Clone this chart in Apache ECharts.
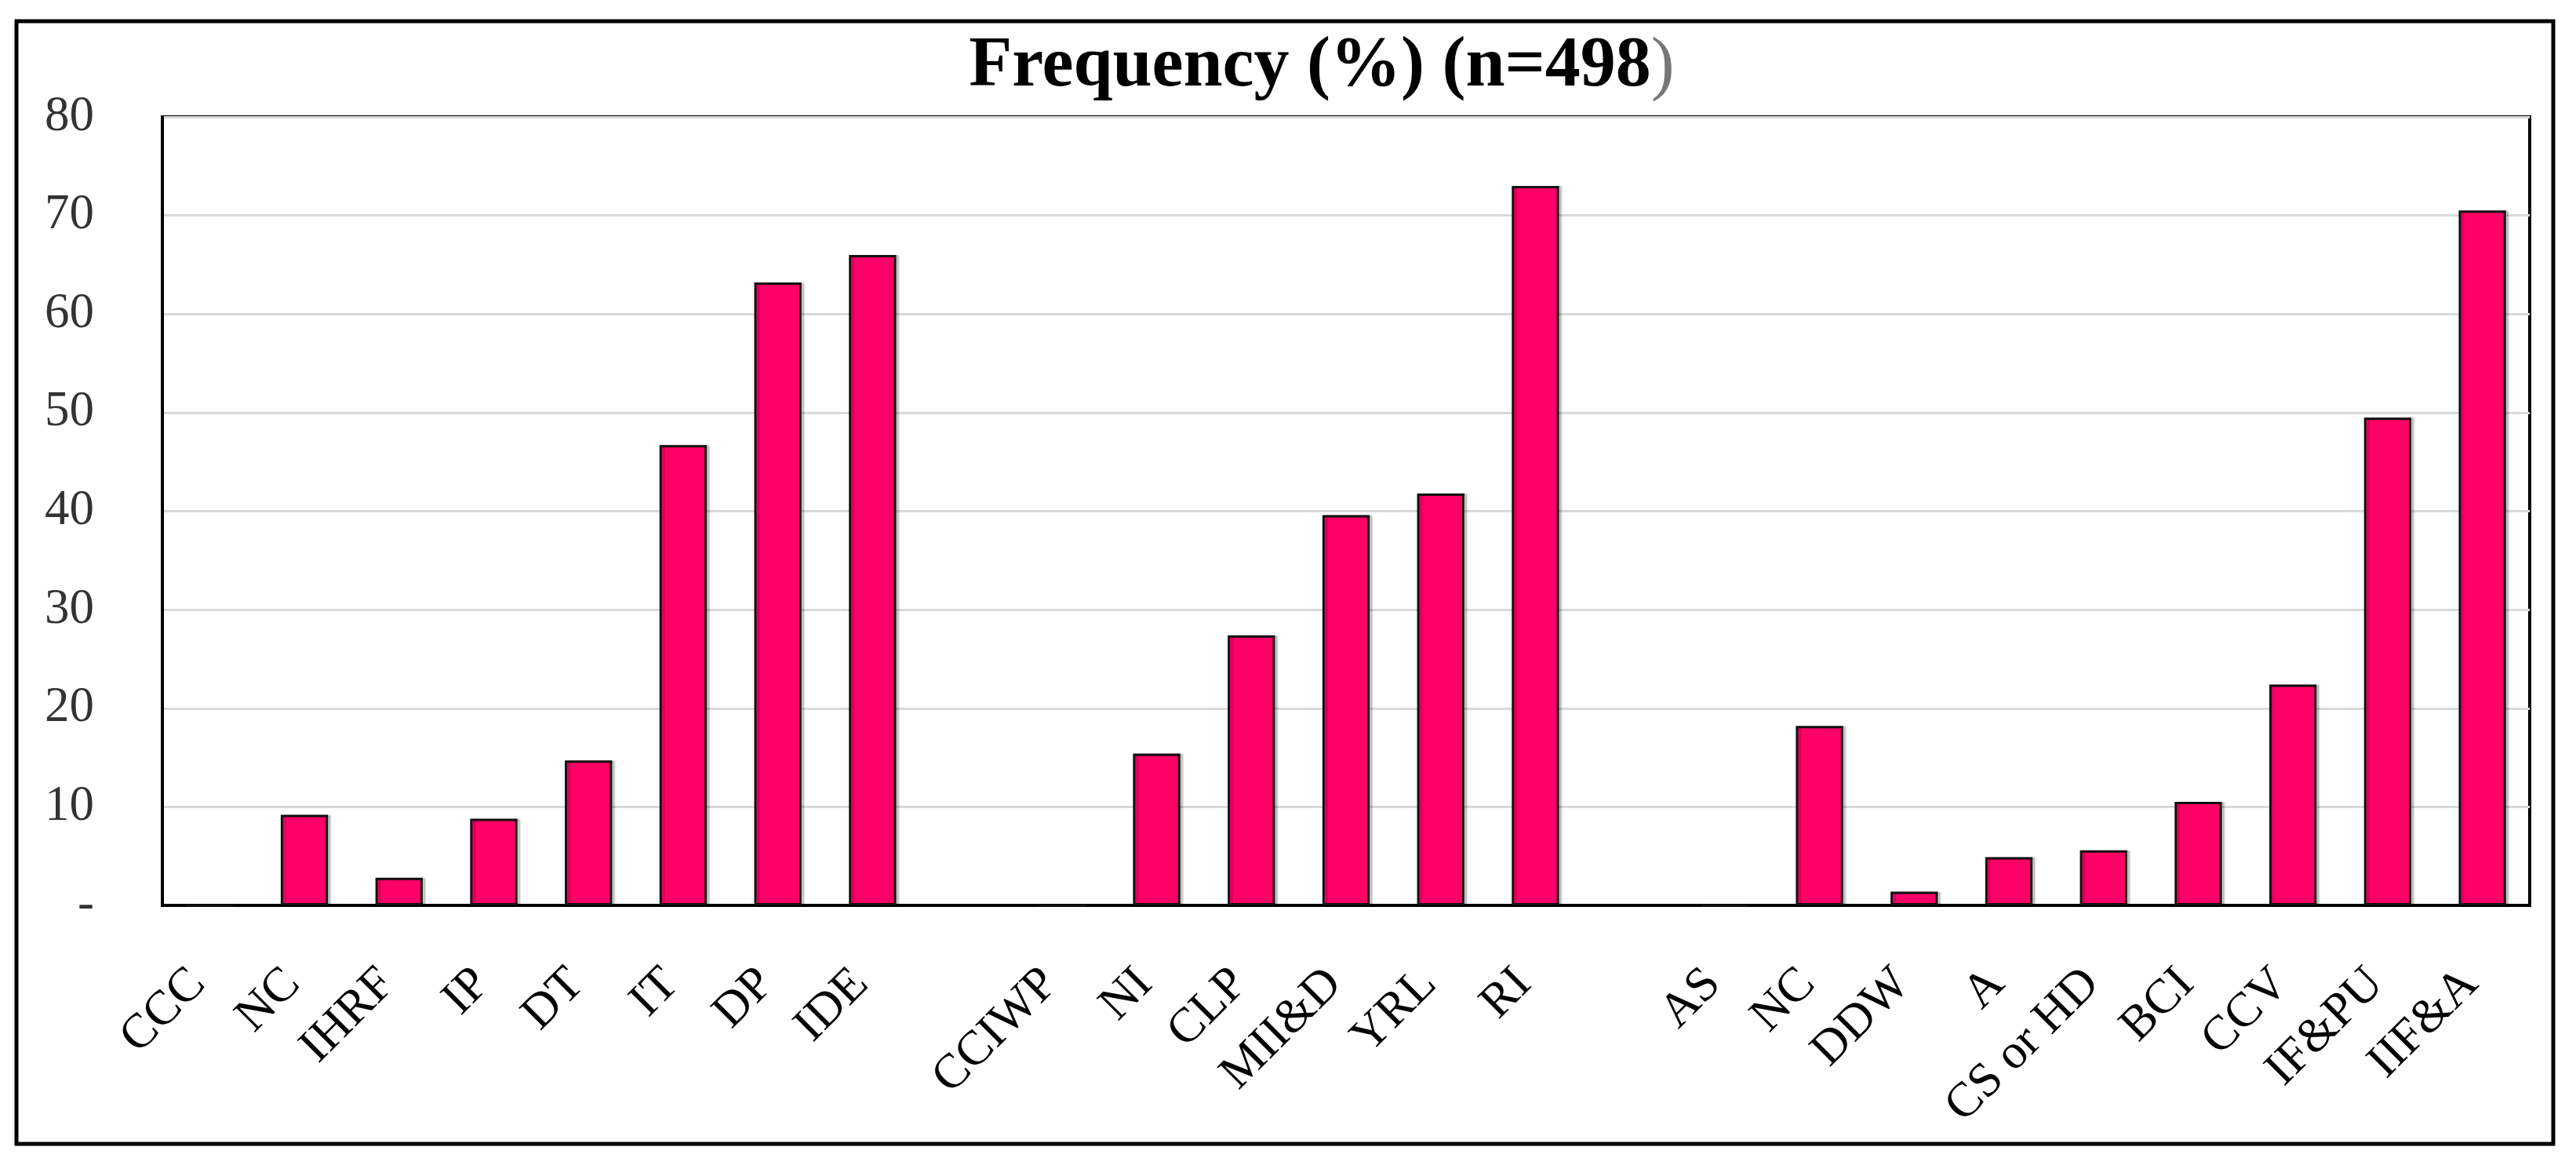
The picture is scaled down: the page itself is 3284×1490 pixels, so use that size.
<!DOCTYPE html>
<html>
<head>
<meta charset="utf-8">
<script src="https://cdn.jsdelivr.net/npm/echarts@6/dist/echarts.min.js"></script>
<style>
html,body{margin:0;padding:0;background:#fff;}
#chart{width:3284px;height:1490px;}
</style>
</head>
<body>
<div id="chart"></div>
<script>
// ---- data ----
const group1Labels = ['CCC', 'NC', 'IHRF', 'IP', 'DT', 'IT', 'DP', 'IDE'];
const group1Values = [0, 9.2, 2.8, 8.8, 14.7, 46.7, 63.2, 66.0];
const group2Labels = ['CCIWP', 'NI', 'CLP', 'MII&D', 'YRL', 'RI'];
const group2Values = [0, 15.4, 27.4, 39.6, 41.8, 73.0];
const group3Labels = ['AS', 'NC', 'DDW', 'A', 'CS or HD', 'BCI', 'CCV', 'IF&PU', 'IIF&A'];
const group3Values = [0, 18.2, 1.4, 4.9, 5.6, 10.5, 22.4, 49.5, 70.5];
const yTicks = [0, 10, 20, 30, 40, 50, 60, 70, 80];
const titleMain = 'Frequency (%) (n=498';
const titleEnd = ')';

// gaps between groups are empty categories
const categories = [].concat(group1Labels, [''], group2Labels, [''], group3Labels);
const values = [].concat(group1Values, [null], group2Values, [null], group3Values);

const FONT = '"Liberation Serif", "Times New Roman", serif';
const chart = echarts.init(document.getElementById('chart'), null, {renderer: 'canvas'});
chart.setOption({
  backgroundColor: '#ffffff',
  animation: false,
  title: {
    text: '{a|' + titleMain + '}{b|' + titleEnd + '}',
    left: 1680,
    top: 36,
    textAlign: 'center',
    textStyle: {
      rich: {
        a: {fontFamily: FONT, fontWeight: 'bold', fontSize: 90, color: '#000'},
        b: {fontFamily: FONT, fontWeight: 'normal', fontSize: 90, color: '#777'}
      }
    }
  },
  grid: {
    left: 207, right: 59, top: 149, bottom: 336,
    show: true, borderColor: '#000', borderWidth: 4, containLabel: false
  },
  xAxis: {
    type: 'category',
    data: categories,
    axisLine: {show: true, lineStyle: {color: '#000', width: 4}},
    axisTick: {show: false},
    axisLabel: {
      interval: 0, rotate: 45, margin: 76,
      padding: [0, 21, 0, 0],
      fontFamily: FONT, fontSize: 62, color: '#000'
    },
    splitLine: {show: false}
  },
  yAxis: {
    type: 'value',
    min: yTicks[0], max: yTicks[yTicks.length - 1], interval: 10,
    axisLine: {show: true, lineStyle: {color: '#000', width: 4}},
    axisTick: {show: false},
    axisLabel: {
      margin: 87,
      fontFamily: FONT, fontSize: 63, color: '#333',
      formatter: v => (v === 0 ? '-' : String(v))
    },
    splitLine: {show: true, lineStyle: {color: '#d9d9d9', width: 3}}
  },
  series: [{
    type: 'bar',
    data: values,
    barWidth: '50%',
    itemStyle: {
      color: '#FF0066',
      borderColor: '#111',
      borderWidth: 3,
      shadowColor: 'rgba(0,0,0,0.15)',
      shadowOffsetX: 4,
      shadowBlur: 0
    }
  }],
  graphic: [{
    type: 'rect',
    shape: {x: 21, y: 27, width: 3234, height: 1431},
    style: {fill: null, stroke: '#000', lineWidth: 5},
    silent: true,
    z: 100
  }]
});
</script>
</body>
</html>
